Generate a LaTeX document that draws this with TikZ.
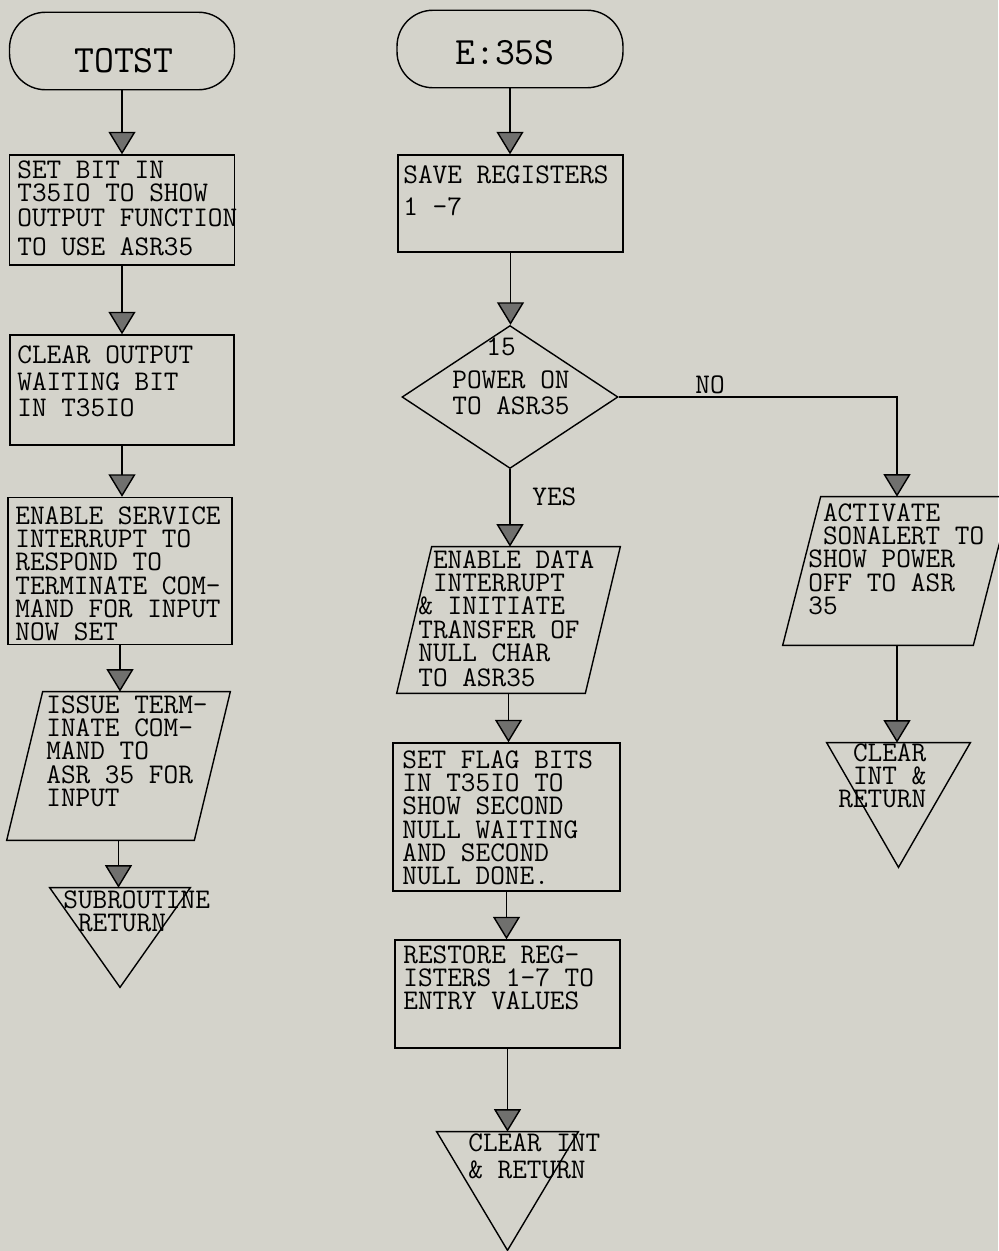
\documentclass[tikz,border=0pt]{standalone}
\usepackage{fontspec}
\usetikzlibrary{arrows.meta}
\usetikzlibrary{shapes.geometric}
\usetikzlibrary{calc}
\usetikzlibrary{positioning}

\definecolor{paper}{RGB}{212,211,203}
\definecolor{tipgray}{RGB}{112,112,110}

\tikzset{
    flow/.style={line width=0.8pt, -{Triangle[width=0.54cm,length=0.45cm,fill=tipgray]}},
    termbox/.style={draw, line width=0.8pt, rounded corners=0.72cm, minimum width=#1, minimum height=1.55cm},
    procbox/.style={draw, line width=0.8pt, inner sep=0pt},
    shapebox/.style={inner sep=0pt},
    outline/.style={line width=0.8pt},
    txt/.style={anchor=north west, inner sep=0pt, align=left, font=\ttfamily\fontsize{16.2}{13.3}\selectfont},
    bigtxt/.style={inner sep=0pt, font=\ttfamily\fontsize{22}{26}\selectfont},
}

\begin{document}
\begin{tikzpicture}[x=0.02cm, y=-0.02cm]
    \fill[paper] (0,0) rectangle (998,1251);
    \useasboundingbox (0,0) rectangle (998,1251);

    % TOTST
    \node[termbox=4.5cm] (totst) at (122,51) {};
    \node[bigtxt] (totsttxt) at (124,61) {TOTST};
    \node[procbox, minimum width=4.5cm, minimum height=2.2cm] (setbit) at (122,210) {};
    \node[txt] (setbittxt) at (17,160) {SET BIT IN\\T35IO TO SHOW\\[1pt]OUTPUT FUNCTION\\[3pt]TO USE ASR35};
    \node[procbox, minimum width=4.48cm, minimum height=2.2cm] (clrout) at (122,390) {};
    \node[txt] (clrouttxt) at (17,345) {CLEAR OUTPUT\\[2pt]WAITING BIT\\[2pt]IN T35IO};
    \node[procbox, minimum width=4.48cm, minimum height=2.94cm] (enserv) at (120,571) {};
    \node[txt] (enservtxt) at (15,506) {ENABLE SERVICE\\INTERRUPT TO\\RESPOND TO\\TERMINATE COM-\\MAND FOR INPUT\\NOW SET};
    \node[shapebox, minimum width=4.46cm, minimum height=2.96cm] (issue) at (118.5,766) {};
    \draw[outline] (issue.south west) -- ([xshift=0.72cm]issue.north west) -- (issue.north east) -- ([xshift=-0.72cm]issue.south east) -- cycle;
    \node[txt] (issuetxt) at (46,695) {ISSUE TERM-\\INATE COM-\\MAND TO\\ASR 35 FOR\\INPUT};
    \node[shapebox, minimum width=2.8cm, minimum height=1.98cm] (subret) at (120,937.5) {};
    \draw[outline] (subret.north west) -- (subret.north east) -- (subret.south) -- cycle;
    \node[txt] (subrettxt) at (63,890) {SUBROUTINE\\\phantom{X}RETURN};

    \draw[flow] (totst.south) -- (totst.south |- setbit.north);
    \draw[flow] (setbit.south) -- (setbit.south |- clrout.north);
    \draw[flow] (clrout.south) -- (clrout.south |- enserv.north);
    \draw[flow] (enserv.south) -- (enserv.south |- issue.north);
    \draw[flow] (issue.south) -- (issue.south |- subret.north);

    % E:35S
    \node[termbox=4.52cm] (e35s) at (510,49) {};
    \node[bigtxt] (e35stxt) at (505,52.5) {E:35S};
    \node[procbox, minimum width=4.5cm, minimum height=1.94cm] (save) at (510.5,203.5) {};
    \node[txt] (savetxt) at (403,165) {SAVE REGISTERS\\[5pt]1 -7};
    \node[draw, diamond, outline, inner sep=0pt, minimum width=4.32cm, minimum height=2.86cm] (pwr) at (510,397) {};
    \node[txt] (pwrno) at (486,337) {15};
    \node[txt] (pwrtxt) at (452,370) {POWER ON\\[2pt]TO ASR35};
    \node[shapebox, minimum width=4.46cm, minimum height=2.92cm] (endata) at (508.5,620) {};
    \draw[outline] (endata.south west) -- ([xshift=0.7cm]endata.north west) -- (endata.north east) -- ([xshift=-0.7cm]endata.south east) -- cycle;
    \node[txt] (endatatxt) at (418,550) {\phantom{X}ENABLE DATA\\\phantom{X}INTERRUPT\\\& INITIATE\\TRANSFER OF\\NULL CHAR\\[1pt]TO ASR35};
    \node[procbox, minimum width=4.54cm, minimum height=2.96cm] (flag) at (506.5,817) {};
    \node[txt] (flagtxt) at (402,750) {SET FLAG BITS\\IN T35IO TO\\SHOW SECOND\\NULL WAITING\\AND SECOND\\NULL DONE.};
    \node[procbox, minimum width=4.5cm, minimum height=2.16cm] (restore) at (507.5,994) {};
    \node[txt] (restoretxt) at (403,945) {RESTORE REG-\\ISTERS 1-7 TO\\ENTRY VALUES};
    \node[shapebox, minimum width=2.82cm, minimum height=2.36cm] (clrint) at (507.5,1191) {};
    \draw[outline] (clrint.north west) -- (clrint.north east) -- (clrint.south) -- cycle;
    \node[txt] (clrinttxt) at (468,1133) {CLEAR INT\\[2pt]\& RETURN};

    \draw[flow] (e35s.south) -- (e35s.south |- save.north);
    \draw[flow] (save.south) -- (save.south |- pwr.north);
    \draw[flow] (pwr.south) -- (pwr.south |- endata.north);
    \node[txt, anchor=west] (yeslbl) at (532,497) {YES};
    \draw[flow] (endata.south) -- (endata.south |- flag.north);
    \draw[flow] (flag.south) -- (flag.south |- restore.north);
    \draw[flow] (restore.south) -- (restore.south |- clrint.north);

    % power off branch
    \node[shapebox, minimum width=4.56cm, minimum height=2.96cm] (activ) at (897,571) {};
    \draw[outline] (activ.south west) -- ([xshift=0.76cm]activ.north west) -- (activ.north east) -- ([xshift=-0.76cm]activ.south east) -- cycle;
    \node[txt] (activtxt) at (808,503) {\phantom{X}ACTIVATE\\\phantom{X}SONALERT TO\\SHOW POWER\\OFF TO ASR\\35};
    \node[shapebox, minimum width=2.86cm, minimum height=2.48cm] (clrint2) at (898.5,805) {};
    \draw[outline] (clrint2.north west) -- (clrint2.north east) -- (clrint2.south) -- cycle;
    \node[txt] (clrint2txt) at (838,743) {\phantom{X}CLEAR\\\phantom{X}INT \&\\RETURN};

    \draw[flow] (pwr.east) -| (activ.north);
    \node[txt, anchor=south] (nolbl) at (710,394) {NO};
    \draw[flow] (activ.south) -- (activ.south |- clrint2.north);
\end{tikzpicture}
\end{document}
